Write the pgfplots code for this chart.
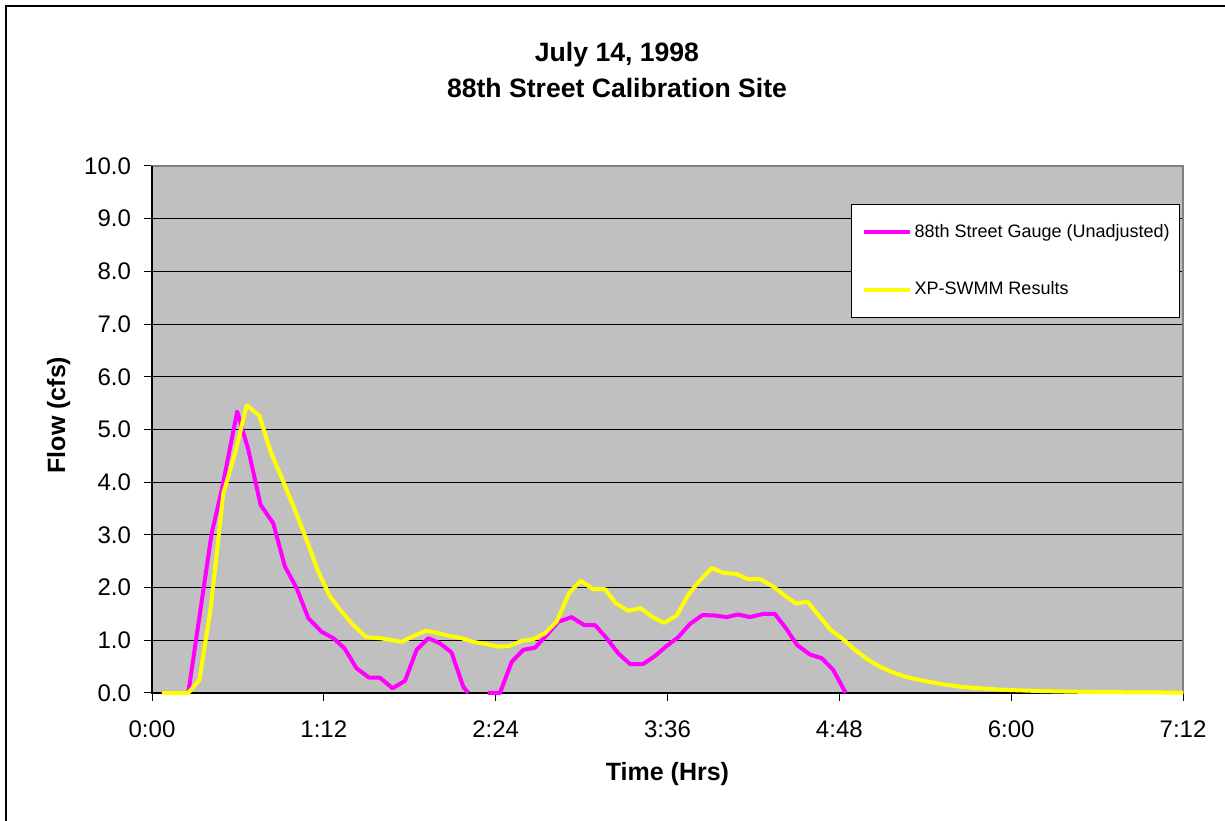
\documentclass[border=0pt]{standalone}
\usepackage{pgfplots}
\pgfplotsset{compat=1.18}
\usepackage{fontspec}
\setmainfont{Liberation Sans}

\definecolor{plotbg}{HTML}{C0C0C0}
\definecolor{gauge}{HTML}{FF00FF}
\definecolor{swmm}{HTML}{FFFF00}
\definecolor{areaedge}{HTML}{808080}

\begin{document}
\begin{tikzpicture}
\begin{axis}[
  scale only axis, width=515.5pt, height=263.5pt,
  xmin=0, xmax=432, ymin=0, ymax=10,
  xtick={0,72,...,432},
  xticklabels={0:00,1:12,2:24,3:36,4:48,6:00,7:12},
  ytick={0,1,...,10},
  yticklabel style={/pgf/number format/fixed, /pgf/number format/fixed zerofill,
    /pgf/number format/precision=1},
  /pgf/number format/assume math mode=true,
  tick label style={font=\fontsize{12}{14}\selectfont},
  xticklabel style={yshift=-6.5pt},
  yticklabel style={xshift=-3pt},
  tick align=outside, major tick length=4pt,
  xtick pos=bottom, ytick pos=left,
  tick style={black, line width=0.5pt},
  axis background/.style={fill=plotbg},
  axis line style={draw=areaedge, line width=1pt},
  ymajorgrids, major grid style={black, line width=0.5pt},
  clip=false, unbounded coords=jump,
  title={July 14, 1998\\88th Street Calibration Site},
  title style={at={(axis description cs:0.451,1.159)}, anchor=center, align=center,
    font=\fontsize{13.3}{18}\selectfont\bfseries},
  xlabel={Time (Hrs)},
  xlabel style={at={(axis description cs:0.5,-0.154)}, anchor=center,
    font=\fontsize{12.5}{15}\selectfont\bfseries},
  ylabel={Flow (cfs)},
  ylabel style={at={(axis description cs:-0.0905,0.5275)}, anchor=center,
    font=\fontsize{12.5}{15}\selectfont\bfseries},
  legend style={at={(axis description cs:0.678,0.928)}, anchor=north west,
    draw=black, line width=0.5pt, fill=white,
    font=\fontsize{9}{10.8}\selectfont,
    inner xsep=5pt, inner ysep=10pt, row sep=20.5pt, column sep=1.5pt,
    nodes={inner sep=0pt}, cells={anchor=west}},
  legend image code/.code={\draw[#1] (0pt,0pt) -- (23pt,0pt);},
]
% black value axes over the grey plot-area border
\draw[black, line width=1pt] (rel axis cs:0,1) -- (rel axis cs:0,0) -- (rel axis cs:1,0);

\addplot[gauge, line width=2pt, line join=round] coordinates {
  (4.1,0) (15.2,0) (25.0,3.03) (29.2,3.85) (35.7,5.34) (40.4,4.61)
  (45.5,3.57) (50.8,3.22) (55.7,2.40) (60.6,1.99) (65.5,1.42) (71.1,1.16)
  (76.0,1.04) (80.6,0.85) (85.7,0.47) (91.0,0.29) (95.5,0.29) (100.8,0.09)
  (106.0,0.23) (110.9,0.82) (115.8,1.04) (120.7,0.94) (125.5,0.77) (130.4,0.12)
  (132.5,0) (135.5,nan) (140.7,0) (145.8,0) (150.7,0.59) (155.6,0.82)
  (160.5,0.86) (165.4,1.10) (170.2,1.35) (175.8,1.44) (181.0,1.29) (185.6,1.29)
  (190.5,1.04) (195.4,0.75) (200.3,0.55) (205.8,0.55) (210.7,0.70) (215.6,0.89)
  (220.5,1.06) (225.4,1.31) (230.7,1.48) (235.9,1.47) (240.8,1.44) (245.6,1.49)
  (250.5,1.44) (256.1,1.50) (261.0,1.50) (265.6,1.23) (270.3,0.91) (275.7,0.73)
  (280.6,0.66) (285.4,0.44) (290.7,0)
};
\addlegendentry{88th Street Gauge (Unadjusted)}

\addplot[swmm, line width=2pt, line join=round] coordinates {
  (4.1,0) (15.2,0) (19.9,0.25) (24.6,1.61) (29.9,3.79) (34.8,4.55)
  (39.7,5.46) (45.0,5.26) (49.7,4.58) (55.0,4.01) (59.9,3.47) (64.8,2.90)
  (69.7,2.30) (74.6,1.83) (79.5,1.54) (84.3,1.29) (89.7,1.06) (95.5,1.04)
  (99.8,1.01) (104.6,0.97) (109.5,1.08) (114.8,1.18) (119.5,1.14) (124.8,1.08)
  (129.7,1.04) (134.6,0.97) (139.9,0.93) (145.1,0.88) (149.7,0.89) (154.9,0.99)
  (159.7,1.02) (164.6,1.13) (169.5,1.35) (174.8,1.90) (179.7,2.13) (184.8,1.97)
  (189.8,1.97) (194.4,1.70) (199.5,1.56) (204.7,1.61) (209.7,1.44) (214.6,1.33)
  (219.8,1.47) (224.7,1.86) (229.6,2.14) (234.5,2.37) (239.6,2.28) (244.7,2.26)
  (249.8,2.16) (254.7,2.16) (260.3,2.02) (264.8,1.86) (269.8,1.70) (274.7,1.73)
  (279.6,1.46) (284.3,1.20) (289.6,1.02) (294.5,0.82) (300.1,0.63) (305.0,0.50)
  (309.9,0.40) (315.5,0.31) (320.4,0.26) (326.0,0.21) (331.5,0.165) (338.5,0.12)
  (345,0.095) (350,0.08) (355,0.065) (360,0.055) (370,0.04) (380,0.03)
  (390,0.022) (400,0.017) (410,0.013) (420,0.01) (432,0.008)
};
\addlegendentry{XP-SWMM Results}

\coordinate (bl) at (axis description cs:-0.14743,-0.24288);
\coordinate (tr) at (axis description cs:1.04074,1.31499);
\coordinate (fbl) at (axis description cs:-0.1416,-0.3);
\coordinate (ftl) at (axis description cs:-0.1416,1.3036);
\coordinate (ftr) at (axis description cs:1.1,1.3036);
\end{axis}
\pgfresetboundingbox
\useasboundingbox (bl) rectangle (tr);
% outer chart frame (only its left and top edges fall inside the picture)
\draw[black, line width=1pt] (fbl) -- (ftl) -- (ftr);
\end{tikzpicture}
\end{document}
